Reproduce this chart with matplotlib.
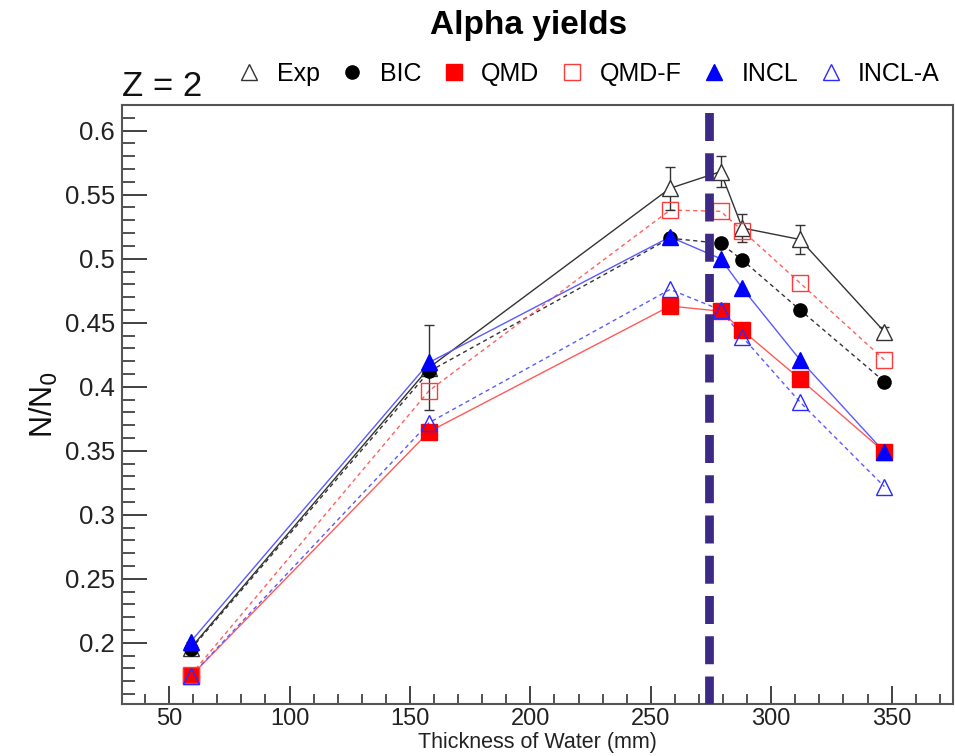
import matplotlib
matplotlib.use("Agg")
import matplotlib.pyplot as plt
from matplotlib.lines import Line2D
from matplotlib.ticker import MultipleLocator

plt.rcParams['font.family'] = ['Liberation Sans', 'DejaVu Sans']

# Water thickness (mm) of each measurement
thickness = [59, 158, 258, 279, 288, 312, 347]

# Normalised alpha yields N/N0
exp_vals = [0.196, 0.415, 0.555, 0.568, 0.524, 0.515, 0.443]
exp_err = [0.005, 0.033, 0.017, 0.012, 0.011, 0.011, 0.004]
bic_vals = [0.195, 0.412, 0.516, 0.512, 0.499, 0.460, 0.404]
qmd_vals = [0.174, 0.365, 0.463, 0.459, 0.444, 0.406, 0.349]
qmdf_vals = [0.175, 0.397, 0.538, 0.537, 0.522, 0.481, 0.421]
incl_vals = [0.201, 0.419, 0.517, 0.500, 0.477, 0.421, 0.349]
incla_vals = [0.174, 0.372, 0.476, 0.460, 0.439, 0.388, 0.322]

bragg_peak = 274

x_ticks = [50, 100, 150, 200, 250, 300, 350]
y_ticks = [0.2, 0.25, 0.3, 0.35, 0.4, 0.45, 0.5, 0.55, 0.6]

fig = plt.figure(figsize=(9.55, 7.56), dpi=100)
ax = fig.add_axes([0.1277, 0.0684, 0.8702, 0.7923])

RED = '#ff0000'
BLUE = '#0000ff'
DASH = (0, (3, 2.5))
lw = 1.0

# Connecting lines, drawn a little lighter than the markers
ax.plot(thickness, exp_vals, color='#333333', lw=lw, ls='-', zorder=2)
ax.plot(thickness, bic_vals, color='#333333', lw=lw, ls=DASH, zorder=2)
ax.plot(thickness, qmd_vals, color='#ff5a5a', lw=lw, ls='-', zorder=2)
ax.plot(thickness, qmdf_vals, color='#ff6060', lw=lw, ls=DASH, zorder=2)
ax.plot(thickness, incl_vals, color='#5a5aff', lw=lw, ls='-', zorder=2)
ax.plot(thickness, incla_vals, color='#5a5aff', lw=lw, ls=DASH, zorder=2)

# Experimental data with error bars
ax.errorbar(thickness, exp_vals, yerr=exp_err, ls='none',
            marker='^', ms=11, mfc='white', mec='#333333', mew=1.0,
            capsize=3.5, elinewidth=1.0, ecolor='#333333', zorder=3)
# Model predictions
ax.plot(thickness, bic_vals, ls='none',
        marker='o', ms=9.5, mfc='black', mec='black', zorder=4)
ax.plot(thickness, qmd_vals, ls='none',
        marker='s', ms=12, mfc=RED, mec=RED, zorder=4)
ax.plot(thickness, qmdf_vals, ls='none',
        marker='s', ms=12, mfc='none', mec='#ff3a3a', mew=1.0, zorder=4)
ax.plot(thickness, incl_vals, ls='none',
        marker='^', ms=11.5, mfc=BLUE, mec=BLUE, zorder=5)
ax.plot(thickness, incla_vals, ls='none',
        marker='^', ms=11, mfc='none', mec='#2a2aff', mew=1.0, zorder=5)

# Bragg peak position
ax.axvline(bragg_peak, color='#3d2a86', lw=6.3, ls=(0, (3.2, 1.4)), zorder=6)

ax.set_xlim(30.4, 375.5)
ax.set_ylim(0.152, 0.6198)
ax.set_xticks(x_ticks)
ax.set_yticks(y_ticks)
ax.set_xticklabels([str(v) for v in x_ticks])
ax.set_yticklabels([f'{v:g}' for v in y_ticks])
ax.xaxis.set_minor_locator(MultipleLocator(10))
ax.yaxis.set_minor_locator(MultipleLocator(0.01))

ax.tick_params(axis='both', which='both', direction='in', top=False, right=False,
               colors='#333333', labelcolor='#222222', labelsize=18.5, pad=5)
ax.tick_params(axis='x', which='both', labelsize=17, pad=3)
ax.tick_params(axis='y', which='major', length=18, width=1.3)
ax.tick_params(axis='y', which='minor', length=9, width=1.2)
ax.tick_params(axis='x', which='major', length=13, width=1.3)
ax.tick_params(axis='x', which='minor', length=7, width=1.2)
for sp in ax.spines.values():
    sp.set_color('#555555')
    sp.set_linewidth(1.5)

ax.set_xlabel('Thickness of Water (mm)', fontsize=15.5, color='#222222')
ax.xaxis.set_label_coords(0.5, -0.046)
ax.set_ylabel(r'N/N$_0$', fontsize=22, color='#111111')
ax.yaxis.set_label_coords(-0.074, 0.5)

fig.text(0.553, 0.966, 'Alpha yields', fontsize=24, fontweight='bold',
         ha='center', va='center')
fig.text(0.128, 0.886, 'Z = 2', fontsize=25, ha='left', va='center', color='#111111')

handles = [
    Line2D([], [], ls='none', marker='^', ms=11, mfc='white', mec='#333333', mew=1.0),
    Line2D([], [], ls='none', marker='o', ms=9.5, mfc='black', mec='black'),
    Line2D([], [], ls='none', marker='s', ms=12, mfc=RED, mec=RED),
    Line2D([], [], ls='none', marker='s', ms=12, mfc='none', mec='#ff3a3a', mew=1.0),
    Line2D([], [], ls='none', marker='^', ms=11.5, mfc=BLUE, mec=BLUE),
    Line2D([], [], ls='none', marker='^', ms=11, mfc='none', mec='#2a2aff', mew=1.0),
]
labels = ['Exp', 'BIC', 'QMD', 'QMD-F', 'INCL', 'INCL-A']
ax.legend(handles, labels, ncol=6, frameon=False, fontsize=18,
          loc='center left', bbox_to_anchor=(0.138, 1.053),
          handlelength=1.0, handletextpad=0.6, columnspacing=0.8,
          borderaxespad=0, borderpad=0)

fig.savefig('out.png', dpi=100)
